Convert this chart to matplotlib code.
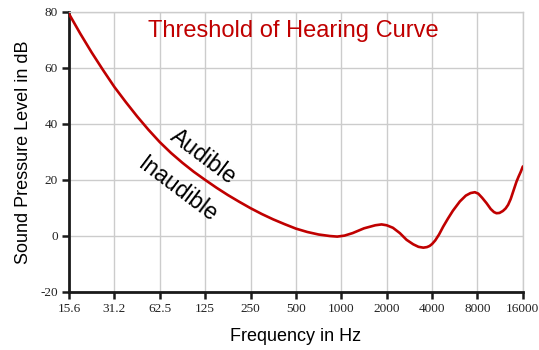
import numpy as np
import matplotlib.pyplot as plt

plt.rcParams['axes.unicode_minus'] = False

# Hörschwelle: Frequenz (Hz) und Schalldruckpegel (dB)
freq = [15.625, 18.58, 22.1, 26.3, 31.25, 37.2, 44.2, 52.6, 62.5, 74.3,
        88.4, 105.1, 125.0, 148.7, 176.8, 210.2, 250.0, 297.3, 353.6, 420.4,
        500.0, 594.6, 707.0, 840.9, 940.0, 1050.0, 1189.0, 1414.0, 1682.0,
        1850.0, 2000.0, 2200.0, 2445.0, 2710.0, 3000.0, 3250.0, 3500.0,
        3700.0, 3850.0, 4000.0, 4200.0, 4450.0, 4740.0, 5100.0, 5500.0,
        6114.0, 6700.0, 7200.0, 7690.0, 8100.0, 8600.0, 9190.0, 9800.0,
        10300.0, 10700.0, 11200.0, 11800.0, 12300.0, 12780.0, 13300.0,
        13800.0, 14200.0, 14530.0, 15000.0, 15500.0, 16000.0]
level = [79.3, 72.2, 65.5, 59.2, 53.2, 47.8, 42.7, 37.9, 33.5, 29.6,
         26.1, 22.9, 20.0, 17.2, 14.6, 12.2, 9.9, 7.8, 5.9, 4.2,
         2.6, 1.4, 0.5, -0.05, -0.25, 0.1, 1.0, 2.7, 3.8,
         4.1, 3.8, 2.9, 1.0, -1.4, -3.0, -3.9, -4.2,
         -4.0, -3.6, -2.9, -1.6, 0.5, 3.3, 6.2, 9.0,
         12.3, 14.4, 15.3, 15.6, 15.1, 13.6, 11.7, 9.6,
         8.5, 8.1, 8.2, 8.9, 9.8, 11.1, 13.2,
         15.8, 17.8, 19.4, 21.2, 22.9, 24.8]

xticks = [15.625, 31.25, 62.5, 125, 250, 500, 1000, 2000, 4000, 8000, 16000]
xticklabels = ['15.6', '31.2', '62.5', '125', '250', '500', '1000', '2000',
               '4000', '8000', '16000']
yticks = [-20, 0, 20, 40, 60, 80]

red = '#c00000'

fig = plt.figure(figsize=(5.39, 3.5), dpi=100)
ax = fig.add_axes([0.128, 0.166, 0.842, 0.8])

ax.plot(freq, level, color=red, lw=1.9, solid_capstyle='round',
        solid_joinstyle='round', zorder=3)

ax.set_xscale('log', base=2)
ax.set_xlim(15.625, 16000)
ax.set_ylim(-20, 80)
ax.set_xticks(xticks)
ax.set_xticklabels(xticklabels)
ax.minorticks_off()
ax.set_yticks(yticks)

ax.grid(True, color='#cccccc', lw=1.0)
ax.set_axisbelow(True)
for s in ['top', 'right']:
    ax.spines[s].set_color('#cccccc')
    ax.spines[s].set_linewidth(1.0)
for s in ['left', 'bottom']:
    ax.spines[s].set_color('#1a1a1a')
    ax.spines[s].set_linewidth(2.0)

ax.tick_params(direction='out', length=5, width=1.8, color='#1a1a1a', pad=3)
for lab in ax.get_xticklabels() + ax.get_yticklabels():
    lab.set_family('Liberation Serif')
    lab.set_fontsize(9.5)
    lab.set_color('#222222')

ax.set_xlabel('Frequency in Hz', family='Liberation Sans', fontsize=13,
              labelpad=9)
ax.set_ylabel('Sound Pressure Level in dB', family='Liberation Sans',
              fontsize=13, labelpad=6)

ax.text(478, 73.2, 'Threshold of Hearing Curve', color=red,
        family='Liberation Sans', fontsize=17, ha='center', va='center')
ax.text(121, 28.2, 'Audible', family='Liberation Sans', fontsize=16.5,
        rotation=-37, rotation_mode='anchor', ha='center', va='center')
ax.text(82.5, 16.4, 'Inaudible', family='Liberation Sans', fontsize=16.5,
        rotation=-37, rotation_mode='anchor', ha='center', va='center')

fig.savefig('out.png', dpi=100)
